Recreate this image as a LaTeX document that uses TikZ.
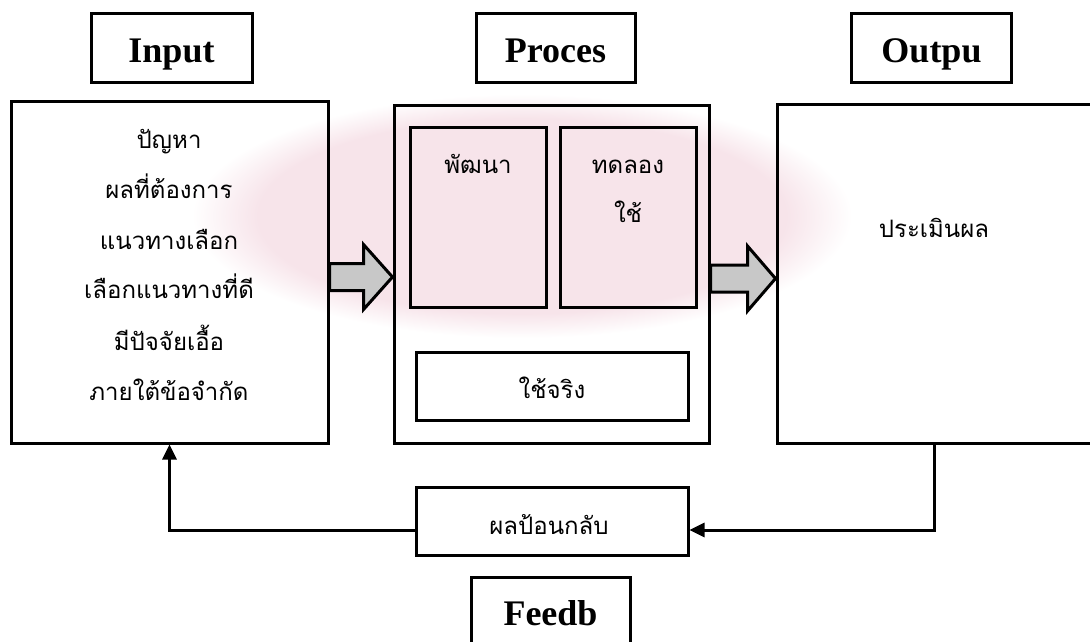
\documentclass[tikz,border=0pt]{standalone}
\usepackage{fontspec}
\setmainfont{Liberation Serif}
\newfontfamily\thaifont[Script=Thai]{Loma}
\usetikzlibrary{arrows.meta,calc}
\definecolor{wmpink}{RGB}{247,228,234}
\definecolor{arrowgray}{RGB}{200,200,200}
\pgfdeclareradialshading{wmshade}{\pgfpoint{0bp}{0bp}}{color(0bp)=(wmpink); color(20bp)=(wmpink); color(25bp)=(white); color(50bp)=(white)}
\begin{document}
\begin{tikzpicture}[x=1pt,y=-1pt,
  box/.style={draw=black,line width=3pt,inner sep=0pt},
  lbl/.style={box,minimum width=160pt,minimum height=69pt,text height=28pt,text depth=0pt,
              font=\fontsize{36}{40}\selectfont\bfseries},
  th/.style={font=\thaifont\fontsize{24}{30}\selectfont,anchor=base,inner sep=0pt},
  conn/.style={line width=3pt,-{Triangle[length=15pt,width=14pt]}},
  blk/.style={draw=black,line width=3pt,fill=arrowgray,line join=miter}
]
\useasboundingbox (0,0) rectangle (1090,641);
% faint background watermark
\shade[shading=wmshade] (522,216) ellipse [x radius=330, y radius=122];

% label boxes
\node[lbl,minimum width=161pt] (inlbl) at (171.5,48) {Input};
\node[lbl,minimum width=159pt] (prlbl) at (555.5,48) {Proces};
\node[lbl] (outlbl) at (931.5,48) {Outpu};
\node[lbl,minimum width=159pt] (fblbl) at (550.5,611.5) {Feedb};

% main boxes
\node[box,minimum width=317pt,minimum height=342pt] (input) at (169.5,272) {};
\node[box,minimum width=315pt,minimum height=338pt] (proc) at (551.5,274) {};
\node[box,minimum width=136pt,minimum height=180pt] (dev) at (478,217) {};
\node[box,minimum width=136pt,minimum height=180pt] (trial) at (628,217) {};
\node[box,minimum width=272pt,minimum height=68pt] (real) at (552,386) {};
\node[box,minimum width=323pt,minimum height=339pt] (output) at (938.5,273.5) {};
\node[box,minimum width=272pt,minimum height=68pt] (fb) at (552,521) {};

% texts
\node[th] (t1) at (169,148) {ปัญหา};
\node[th] (t2) at (169,198) {ผลที่ต้องการ};
\node[th] (t3) at (169,249) {แนวทางเลือก};
\node[th] (t4) at (169,298) {เลือกแนวทางที่ดี};
\node[th] (t5) at (169,350) {มีปัจจัยเอื้อ};
\node[th] (t6) at (169,400) {ภายใต้ข้อจำกัด};
\node[th] (tdev) at (478,173) {พัฒนา};
\node[th] (ttr1) at (628,173) {ทดลอง};
\node[th] (ttr2) at (628,222) {ใช้};
\node[th] (treal) at (552,398) {ใช้จริง};
\node[th] (tout) at (934,237) {ประเมินผล};
\node[th] (tfb) at (549,534) {ผลป้อนกลับ};

% block arrows
\coordinate (a1s) at ($(input.east)+(0,5)$);
\coordinate (a1e) at ($(proc.west)+(0,3)$);
\draw[blk] ($(a1s)+(0,-13.5)$) -- ($(a1e)+(-29,-13.5)$) -- ($(a1e)+(-29,-32.5)$) -- (a1e)
  -- ($(a1e)+(-29,32.5)$) -- ($(a1e)+(-29,13.5)$) -- ($(a1s)+(0,13.5)$) -- cycle;
\coordinate (a2s) at ($(proc.east)+(0,4.5)$);
\coordinate (a2e) at ($(output.west)+(0,5)$);
\draw[blk] ($(a2s)+(0,-13.5)$) -- ($(a2e)+(-28,-13.5)$) -- ($(a2e)+(-28,-32.5)$) -- (a2e)
  -- ($(a2e)+(-28,32.5)$) -- ($(a2e)+(-28,13.5)$) -- ($(a2s)+(0,13.5)$) -- cycle;

% feedback connectors
\coordinate (osrc) at ($(output.south)+(-4.5,0)$);
\draw[conn] (osrc) |- ($(fb.east)+(0,9)$);
\draw[conn] ($(fb.west)+(0,9)$) -| (input.south);
\end{tikzpicture}
\end{document}
